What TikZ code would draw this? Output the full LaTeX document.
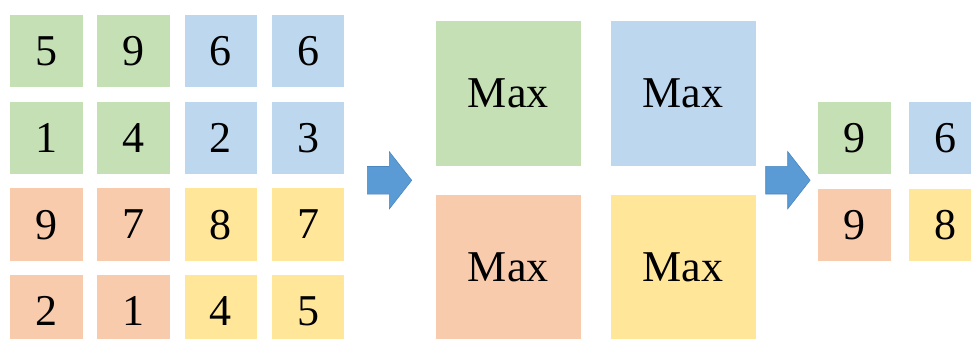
\documentclass[tikz,border=0pt]{standalone}
\usepackage{fontspec}
\setmainfont{Liberation Serif}
\definecolor{cgreen}{HTML}{C5E0B4}
\definecolor{cblue}{HTML}{BDD7EE}
\definecolor{corange}{HTML}{F8CBAD}
\definecolor{cyellow}{HTML}{FFE699}
\definecolor{arrowfill}{HTML}{5B9BD5}
\definecolor{arrowline}{HTML}{4A86C0}
\begin{document}
\begin{tikzpicture}[x=1pt,y=-1pt,
  cell/.style={rectangle,inner sep=0pt,minimum width=72.5pt,minimum height=72.5pt,
    font=\fontsize{44}{50}\selectfont,text depth=0pt},
  pool/.style={rectangle,inner sep=0pt,minimum width=145pt,minimum height=145pt,
    font=\fontsize{44}{50}\selectfont},
  blockarrow/.style={fill=arrowfill,draw=arrowline,line width=0.6pt,line join=miter},
  pics/rightarrow/.style={code={
    \path[blockarrow] (0,-13.8) -- (22,-13.8) -- (22,-28.6) -- (44.4,0)
      -- (22,28.6) -- (22,13.8) -- (0,13.8) -- cycle;}}]
\useasboundingbox (0,0) rectangle (971,338);

% input feature map, 4x4
\foreach \r/\y in {1/51.2,2/137.8,3/224.5,4/311.3}{
  \foreach \c/\x in {1/46.3,2/133.7,3/220.8,4/308.2}{
    \coordinate (p\r\c) at (\x,\y);
  }
}
\node[cell,fill=cgreen]  (a11) at (p11) {5};
\node[cell,fill=cgreen]  (a12) at (p12) {9};
\node[cell,fill=cblue]   (a13) at (p13) {6};
\node[cell,fill=cblue]   (a14) at (p14) {6};
\node[cell,fill=cgreen]  (a21) at (p21) {1};
\node[cell,fill=cgreen]  (a22) at (p22) {4};
\node[cell,fill=cblue]   (a23) at (p23) {2};
\node[cell,fill=cblue]   (a24) at (p24) {3};
\node[cell,fill=corange] (a31) at (p31) {9};
\node[cell,fill=corange] (a32) at (p32) {7};
\node[cell,fill=cyellow] (a33) at (p33) {8};
\node[cell,fill=cyellow] (a34) at (p34) {7};
\node[cell,fill=corange] (a41) at (p41) {2};
\node[cell,fill=corange] (a42) at (p42) {1};
\node[cell,fill=cyellow] (a43) at (p43) {4};
\node[cell,fill=cyellow] (a44) at (p44) {5};

% first arrow
\pic at (367.3,180.3) {rightarrow};

% pooling windows
\node[pool,fill=cgreen]  (m1) at (508.3,93.7)  {Max};
\node[pool,fill=cblue]   (m2) at (683.2,93.7)  {Max};
\node[pool,fill=corange] (m3) at (508.3,267.5) {Max};
\node[pool,fill=cyellow] (m4) at (683.2,267.5) {Max};

% second arrow
\pic at (765.7,180.2) {rightarrow};

% pooled output, 2x2
\node[cell,fill=cgreen]  (o1) at (854.5,137.8) {9};
\node[cell,fill=cblue]   (o2) at (945.5,137.8) {6};
\node[cell,fill=corange] (o3) at (854.5,224.8) {9};
\node[cell,fill=cyellow] (o4) at (945.5,224.8) {8};
\end{tikzpicture}
\end{document}
